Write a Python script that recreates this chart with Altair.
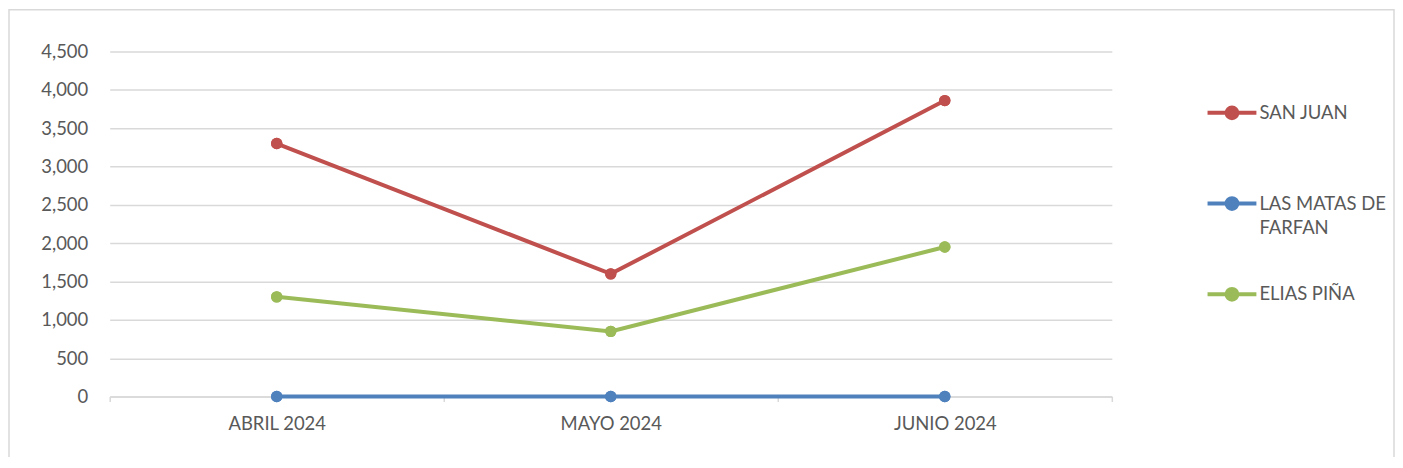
import altair as alt
import pandas as pd

months = ["ABRIL 2024", "MAYO 2024", "JUNIO 2024"]
series = ["SAN JUAN", "LAS MATAS DE FARFAN", "ELIAS PIÑA"]
san_juan = [3300, 1600, 3860]
las_matas = [0, 0, 0]
elias_pina = [1300, 850, 1950]
colors = ["#c0504d", "#4f81bd", "#9bbb59"]
y_ticks = [0, 500, 1000, 1500, 2000, 2500, 3000, 3500, 4000, 4500]

rows = []
for name, vals in zip(series, [san_juan, las_matas, elias_pina]):
    for m, v in zip(months, vals):
        rows.append({"mes": m, "serie": name, "valor": v})
df = pd.DataFrame(rows)

W, H = 1005, 346
FONT = "Lato"
FS = 18.5
TXT = "#595959"
GRID = "#d9d9d9"

legend = alt.Legend(
    title=None,
    orient="none",
    legendX=1099,
    legendY=35,
    symbolType="M-1,0H1M-0.22,0A0.22,0.22 0 1,0 0.22,0A0.22,0.22 0 1,0 -0.22,0Z",
    symbolSize=2401,
    symbolStrokeWidth=4,
    labelFont=FONT,
    labelFontSize=FS,
    labelColor=TXT,
    labelOffset=1,
    rowPadding=30,
    labelLimit=300,
    labelExpr="datum.label == 'LAS MATAS DE FARFAN' ? ['LAS MATAS DE', 'FARFAN'] : [datum.label, '']",
)

color = alt.Color(
    "serie:N",
    sort=series,
    scale=alt.Scale(domain=series, range=colors),
    legend=legend,
)

x = alt.X(
    "mes:N",
    sort=months,
    scale=alt.Scale(paddingInner=0, paddingOuter=0),
    axis=alt.Axis(
        title=None,
        labelAngle=0,
        tickBand="extent",
        domainColor=GRID,
        domainWidth=1.5,
        tickColor=GRID,
        tickSize=5,
        tickWidth=1.5,
        labelPadding=13,
        labelFont=FONT,
        labelFontSize=FS,
        labelColor=TXT,
        grid=False,
    ),
)

y = alt.Y(
    "valor:Q",
    scale=alt.Scale(domain=[0, 4500], nice=False),
    axis=alt.Axis(
        title=None,
        values=y_ticks,
        format=",.0f",
        domain=False,
        ticks=False,
        labelPadding=22,
        labelFont=FONT,
        labelFontSize=FS,
        labelColor=TXT,
        gridColor=GRID,
        gridWidth=1.5,
    ),
)

base = alt.Chart(df)
points = base.mark_point(filled=True, size=130, opacity=1).encode(x=x, y=y, color=color)
lines = base.mark_line(strokeWidth=4).encode(x=x, y=y, color=color, detail="serie:N")

frame = alt.Chart(pd.DataFrame({"a": [0]})).mark_rect(
    fill=None, stroke=GRID, strokeWidth=1.5
).encode(
    x=alt.value(-101),
    x2=alt.value(W + 283),
    y=alt.value(-42),
    y2=alt.value(H + 80),
)

chart = (
    alt.layer(frame, points, lines, points)
    .properties(
        width=W,
        height=H,
        autosize=alt.AutoSizeParams(type="none"),
        padding={"left": 102, "top": 43, "right": 284, "bottom": 60},
        background="white",
    )
    .configure(style={"guide-label": {"lineHeight": 25}})
    .configure_view(stroke=None)
)

chart.save("out.html", embed_options={"renderer": "svg", "actions": False})
